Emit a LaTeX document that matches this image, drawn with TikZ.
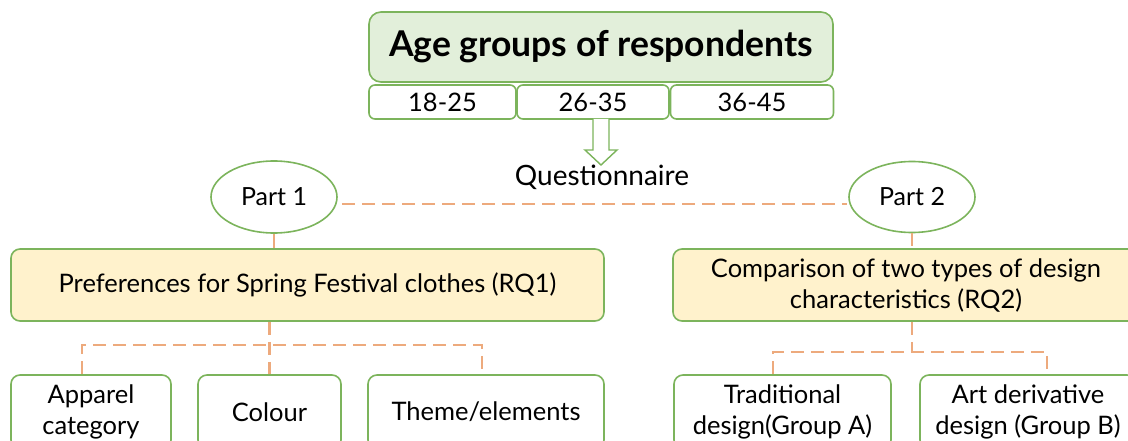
\documentclass[tikz,border=0pt]{standalone}
\usepackage{fontspec}
\setmainfont{Lato}
\usetikzlibrary{shapes.geometric,calc}

\definecolor{leafgreen}{RGB}{124,180,92}
\definecolor{mintfill}{RGB}{226,239,218}
\definecolor{creamfill}{RGB}{255,242,204}
\definecolor{peach}{RGB}{237,170,125}

\tikzset{
  base/.style={draw=leafgreen, line width=1.6pt, rounded corners=9pt,
    inner sep=0pt, align=center, text=black,
    font=\fontsize{25.5}{31}\selectfont},
  headbox/.style={base, fill=mintfill, rounded corners=12pt,
    font=\fontsize{35.5}{40}\selectfont\bfseries},
  agebox/.style={base, fill=white, rounded corners=6pt},
  rqbox/.style={base, fill=creamfill},
  leafbox/.style={base, fill=white},
  partoval/.style={ellipse, draw=leafgreen, line width=1.6pt, fill=white,
    inner sep=0pt, font=\fontsize{25}{30.5}\selectfont},
  plainlabel/.style={inner sep=0pt, font=\fontsize{28}{32}\selectfont},
  dashline/.style={draw=peach, line width=2.2pt, dash pattern=on 13pt off 7pt},
  solidline/.style={draw=peach, line width=2.2pt},
  hollowarrow/.style={draw=leafgreen, line width=1.4pt, fill=white, line join=miter}
}

\begin{document}
\begin{tikzpicture}[x=1pt, y=-1pt]
  \useasboundingbox (0,0) rectangle (1128,441);
  \clip (0,0) rectangle (1128,441);

  % header and age groups
  \node[headbox, minimum width=464pt, minimum height=70pt] (title) at (601,47) {Age groups of respondents};
  \node[agebox, minimum width=147pt, minimum height=34pt] (a1) at (442.5,102) {18-25};
  \node[agebox, minimum width=152pt, minimum height=34pt] (a2) at (593,102) {26-35};
  \node[agebox, minimum width=163pt, minimum height=34pt] (a3) at (752,102) {36-45};

  % questionnaire
  \node[plainlabel] (quest) at (602,177) {Questionnaire};
  \coordinate (arrowtop) at (601,119);
  \draw[hollowarrow] ($(arrowtop)+(-8,0)$) -- ++(0,31) -- ++(-8,0) -- (601,165)
     -- (617,150) -- ++(-8,0) -- ++(0,-31);

  % two parts
  \node[partoval, minimum width=126pt, minimum height=72pt] (p1) at (274,197) {Part 1};
  \node[partoval, minimum width=126pt, minimum height=71pt] (p2) at (912,197) {Part 2};
  \draw[dashline] ([xshift=4pt,yshift=-7pt]p1.east) -- ([xshift=-1pt,yshift=-7pt]p2.west);

  % research questions
  \node[rqbox, minimum width=593pt, minimum height=72pt] (rq1) at (307.5,285) {Preferences for Spring Festival clothes (RQ1)};
  \node[rqbox, minimum width=466pt, minimum height=72pt] (rq2) at (906,285) {Comparison of two types of design\\characteristics (RQ2)};
  \draw[solidline] (p1.south) -- (p1.south |- rq1.north);
  \draw[dashline] (p2.south) -- (p2.south |- rq2.north);

  % items for part 1
  \node[leafbox, minimum width=160pt, minimum height=74pt] (c1) at (91,412) {Apparel\\category};
  \node[leafbox, minimum width=143pt, minimum height=74pt] (c2) at (269.5,412) {Colour};
  \node[leafbox, minimum width=236pt, minimum height=74pt] (c3) at (486,412) {Theme/elements};
  \coordinate (bus1) at (270,345);
  \draw[dashline] (c2.north |- rq1.south) -- (c2.north);
  \draw[dashline] ([xshift=-9pt]c1.north) |- (bus1) -| ([xshift=-4pt]c3.north);

  % groups for part 2
  \node[leafbox, minimum width=217pt, minimum height=74pt] (d1) at (782.5,412) {Traditional\\design(Group A)};
  \node[leafbox, minimum width=216pt, minimum height=74pt] (d2) at (1028,412) {Art derivative\\design (Group B)};
  \coordinate (bus2) at (912,352);
  \draw[dashline] (bus2 |- rq2.south) -- (bus2);
  \draw[dashline] ([xshift=-9.5pt]d1.north) |- (bus2) -| ([xshift=19pt]d2.north);
\end{tikzpicture}
\end{document}
